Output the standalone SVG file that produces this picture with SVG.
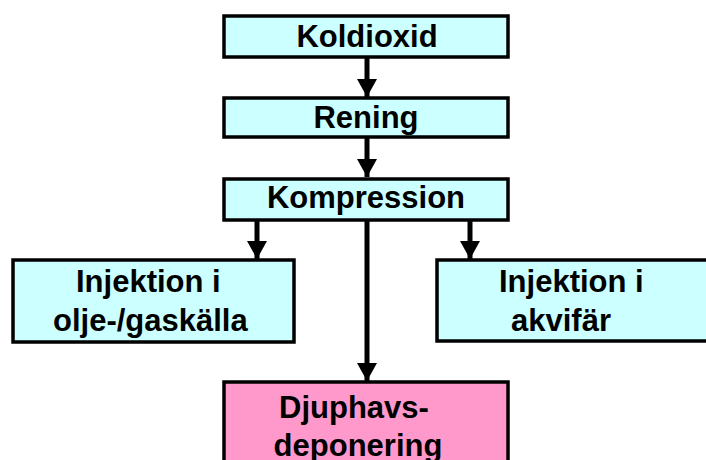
<svg xmlns="http://www.w3.org/2000/svg" width="706" height="460" viewBox="0 0 706 460">
  <style>
    .box { fill: #CCFFFF; stroke: #000; stroke-width: 3.5; }
    .sink { fill: #FF99CC; stroke: #000; stroke-width: 3.5; }
    .lbl { font-family: "Liberation Sans", Arial, sans-serif; font-weight: bold; font-size: 31px; fill: #000; }
    .mid { text-anchor: middle; }
    .flow { stroke: #000; stroke-width: 5; fill: none; marker-end: url(#head); }
  </style>
  <defs>
    <marker id="head" markerUnits="userSpaceOnUse" markerWidth="20" markerHeight="20" viewBox="0 0 20 20" refX="18" refY="10" orient="auto">
      <path d="M0,0 L18,10 L0,20 Z" fill="#000"/>
    </marker>
  </defs>

  <rect width="706" height="460" fill="#fff"/>

  <g id="connectors">
    <line class="flow" x1="367" y1="58" x2="367" y2="97"/>
    <line class="flow" x1="367" y1="138" x2="367" y2="177"/>
    <line class="flow" x1="257" y1="220" x2="257" y2="259"/>
    <line class="flow" x1="470" y1="220" x2="470" y2="259"/>
    <line class="flow" x1="367" y1="220" x2="367" y2="381"/>
  </g>

  <g id="koldioxid">
    <rect class="box" x="224" y="16" width="284" height="41"/>
    <text class="lbl mid" x="367" y="47">Koldioxid</text>
  </g>

  <g id="rening">
    <rect class="box" x="224" y="98" width="284" height="39"/>
    <text class="lbl mid" x="366" y="128">Rening</text>
  </g>

  <g id="kompression">
    <rect class="box" x="224" y="179" width="284" height="41"/>
    <text class="lbl mid" x="366" y="208">Kompression</text>
  </g>

  <g id="injektion-olja-gas">
    <rect class="box" x="13" y="260" width="281" height="82"/>
    <text class="lbl" x="76" y="292">Injektion i</text>
    <text class="lbl" x="53" y="331">olje-/gaskälla</text>
  </g>

  <g id="injektion-akvifer">
    <rect class="box" x="437" y="260" width="280" height="81"/>
    <text class="lbl" x="499" y="292">Injektion i</text>
    <text class="lbl" x="511" y="331">akvifär</text>
  </g>

  <g id="djuphavsdeponering">
    <rect class="sink" x="224" y="382" width="284" height="90"/>
    <text class="lbl mid" x="354" y="418">Djuphavs-</text>
    <text class="lbl mid" x="358" y="456">deponering</text>
  </g>
</svg>
